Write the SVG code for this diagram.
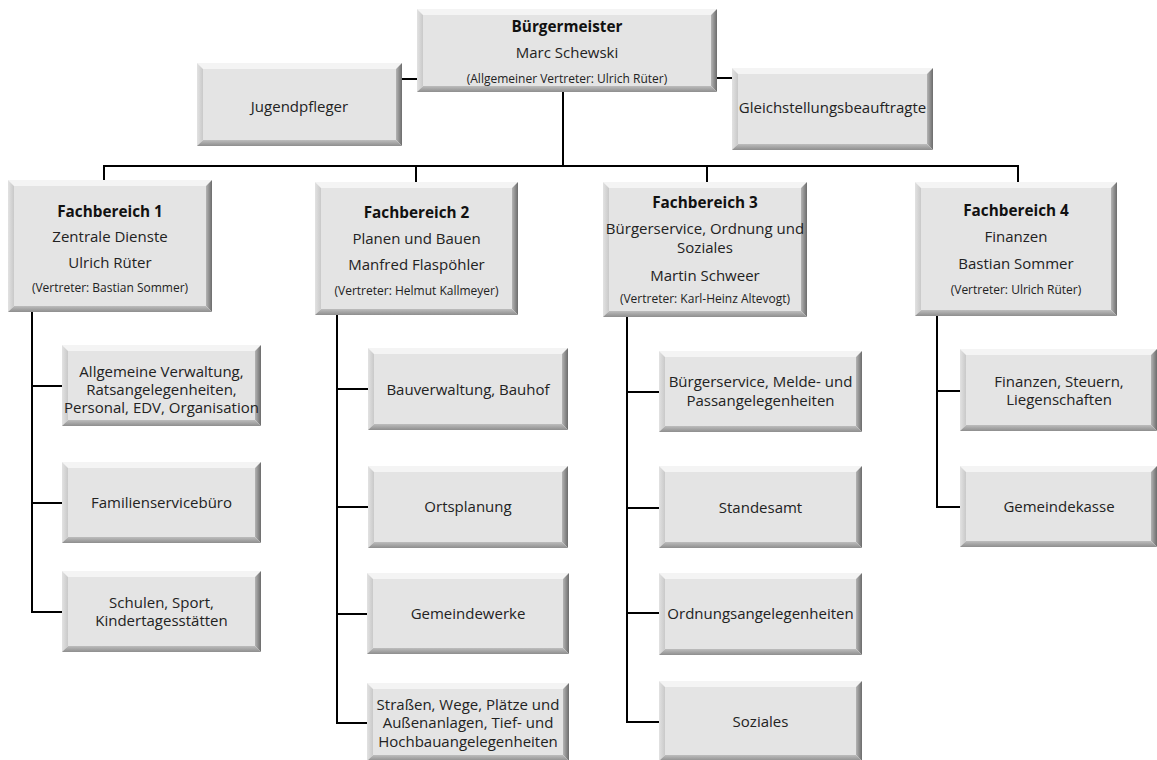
<svg xmlns="http://www.w3.org/2000/svg" width="1157" height="760" viewBox="0 0 1157 760">
<defs>
<linearGradient id="gr" x1="0" y1="0" x2="1" y2="0"><stop offset="0" stop-color="#b4b4b4"/><stop offset="1" stop-color="#6c6c6c"/></linearGradient>
<linearGradient id="gb" x1="0" y1="0" x2="0" y2="1"><stop offset="0" stop-color="#bdbdbd"/><stop offset="1" stop-color="#8e8e8e"/></linearGradient>
<linearGradient id="gl" x1="0" y1="0" x2="1" y2="0"><stop offset="0" stop-color="#e2e2e2"/><stop offset="1" stop-color="#c9c9c9"/></linearGradient>
<style>
.f{fill:#e4e4e4}.t{fill:#f4f4f4}.l{fill:url(#gl)}.r{fill:url(#gr)}.b{fill:url(#gb)}
text{font-family:"Open Sans","Liberation Sans",sans-serif;fill:#222;text-anchor:middle;font-size:15px}
.h{font-weight:bold;font-size:15.3px;fill:#111}
.s{font-size:12px}
.c line{stroke:#000;stroke-width:2}
</style>
</defs>
<rect width="1157" height="760" fill="#fff"/>
<g class="c" id="connectors">
<line x1="402" y1="79" x2="417" y2="79"/>
<line x1="717" y1="78" x2="732" y2="78"/>
<line x1="563" y1="92" x2="563" y2="167"/>
<line x1="103" y1="166" x2="1019" y2="166"/>
<line x1="104" y1="166" x2="104" y2="180"/>
<line x1="416" y1="166" x2="416" y2="182"/>
<line x1="707" y1="166" x2="707" y2="182"/>
<line x1="1018" y1="166" x2="1018" y2="182"/>
<line x1="32" y1="312" x2="32" y2="613"/>
<line x1="31" y1="386" x2="62" y2="386"/>
<line x1="31" y1="503" x2="62" y2="503"/>
<line x1="31" y1="612" x2="62" y2="612"/>
<line x1="337" y1="315" x2="337" y2="724"/>
<line x1="336" y1="389" x2="368" y2="389"/>
<line x1="336" y1="507" x2="368" y2="507"/>
<line x1="336" y1="614" x2="367" y2="614"/>
<line x1="336" y1="723" x2="367" y2="723"/>
<line x1="627" y1="317" x2="627" y2="723"/>
<line x1="626" y1="392" x2="659" y2="392"/>
<line x1="626" y1="508" x2="659" y2="508"/>
<line x1="626" y1="613" x2="659" y2="613"/>
<line x1="626" y1="722" x2="659" y2="722"/>
<line x1="937" y1="316" x2="937" y2="508"/>
<line x1="936" y1="391" x2="960" y2="391"/>
<line x1="936" y1="507" x2="960" y2="507"/>
</g>
<g id="buergermeister"><path class="t" d="M417 9h300l-6 6H423z"/><path class="l" d="M417 9l6 6v71l-6 6z"/><path class="r" d="M717 9v83l-6-6V15z"/><path class="b" d="M417 92l6-6h288l6 6z"/><rect class="f" x="423" y="15" width="288" height="71"/>
<text class="h" x="567" y="32">Bürgermeister</text><text x="567" y="58">Marc Schewski</text><text class="s" x="567" y="83">(Allgemeiner Vertreter: Ulrich Rüter)</text></g>
<g id="jugendpfleger"><path class="t" d="M197 63h205l-6 6H203z"/><path class="l" d="M197 63l6 6v71l-6 6z"/><path class="r" d="M402 63v83l-6-6V69z"/><path class="b" d="M197 146l6-6h193l6 6z"/><rect class="f" x="203" y="69" width="193" height="71"/>
<text x="299.5" y="112">Jugendpfleger</text></g>
<g id="gleichstellung"><path class="t" d="M732 68h201l-6 6H738z"/><path class="l" d="M732 68l6 6v70l-6 6z"/><path class="r" d="M933 68v82l-6-6V74z"/><path class="b" d="M732 150l6-6h189l6 6z"/><rect class="f" x="738" y="74" width="189" height="70"/>
<text x="832.5" y="113">Gleichstellungsbeauftragte</text></g>
<g id="fb1"><path class="t" d="M8 180h204l-6 6H14z"/><path class="l" d="M8 180l6 6v120l-6 6z"/><path class="r" d="M212 180v132l-6-6V186z"/><path class="b" d="M8 312l6-6h192l6 6z"/><rect class="f" x="14" y="186" width="192" height="120"/>
<text class="h" x="110" y="217">Fachbereich 1</text><text x="110" y="242">Zentrale Dienste</text><text x="110" y="268">Ulrich Rüter</text><text class="s" x="110" y="292">(Vertreter: Bastian Sommer)</text></g>
<g id="fb2"><path class="t" d="M315 182h203l-6 6H321z"/><path class="l" d="M315 182l6 6v121l-6 6z"/><path class="r" d="M518 182v133l-6-6V188z"/><path class="b" d="M315 315l6-6h191l6 6z"/><rect class="f" x="321" y="188" width="191" height="121"/>
<text class="h" x="416.5" y="218">Fachbereich 2</text><text x="416.5" y="244">Planen und Bauen</text><text x="416.5" y="270">Manfred Flaspöhler</text><text class="s" x="416.5" y="295">(Vertreter: Helmut Kallmeyer)</text></g>
<g id="fb3"><path class="t" d="M603 182h204l-6 6H609z"/><path class="l" d="M603 182l6 6v123l-6 6z"/><path class="r" d="M807 182v135l-6-6V188z"/><path class="b" d="M603 317l6-6h192l6 6z"/><rect class="f" x="609" y="188" width="192" height="123"/>
<text class="h" x="705" y="208">Fachbereich 3</text><text x="705" y="234">Bürgerservice, Ordnung und</text><text x="705" y="253">Soziales</text><text x="705" y="281">Martin Schweer</text><text class="s" x="705" y="303">(Vertreter: Karl-Heinz Altevogt)</text></g>
<g id="fb4"><path class="t" d="M915 182h202l-6 6H921z"/><path class="l" d="M915 182l6 6v122l-6 6z"/><path class="r" d="M1117 182v134l-6-6V188z"/><path class="b" d="M915 316l6-6h190l6 6z"/><rect class="f" x="921" y="188" width="190" height="122"/>
<text class="h" x="1016" y="216">Fachbereich 4</text><text x="1016" y="242">Finanzen</text><text x="1016" y="269">Bastian Sommer</text><text class="s" x="1016" y="294">(Vertreter: Ulrich Rüter)</text></g>
<g id="allg-verwaltung"><path class="t" d="M62 345h199l-6 6H68z"/><path class="l" d="M62 345l6 6v69l-6 6z"/><path class="r" d="M261 345v81l-6-6V351z"/><path class="b" d="M62 426l6-6h187l6 6z"/><rect class="f" x="68" y="351" width="187" height="69"/>
<text x="161.5" y="377">Allgemeine Verwaltung,</text><text x="161.5" y="395">Ratsangelegenheiten,</text><text x="161.5" y="413">Personal, EDV, Organisation</text></g>
<g id="familienservice"><path class="t" d="M62 462h199l-6 6H68z"/><path class="l" d="M62 462l6 6v69l-6 6z"/><path class="r" d="M261 462v81l-6-6V468z"/><path class="b" d="M62 543l6-6h187l6 6z"/><rect class="f" x="68" y="468" width="187" height="69"/>
<text x="161.5" y="508">Familienservicebüro</text></g>
<g id="schulen"><path class="t" d="M62 571h199l-6 6H68z"/><path class="l" d="M62 571l6 6v69l-6 6z"/><path class="r" d="M261 571v81l-6-6V577z"/><path class="b" d="M62 652l6-6h187l6 6z"/><rect class="f" x="68" y="577" width="187" height="69"/>
<text x="161.5" y="608">Schulen, Sport,</text><text x="161.5" y="626">Kindertagesstätten</text></g>
<g id="bauverwaltung"><path class="t" d="M368 348h200l-6 6H374z"/><path class="l" d="M368 348l6 6v70l-6 6z"/><path class="r" d="M568 348v82l-6-6V354z"/><path class="b" d="M368 430l6-6h188l6 6z"/><rect class="f" x="374" y="354" width="188" height="70"/>
<text x="468" y="395">Bauverwaltung, Bauhof</text></g>
<g id="ortsplanung"><path class="t" d="M368 466h200l-6 6H374z"/><path class="l" d="M368 466l6 6v70l-6 6z"/><path class="r" d="M568 466v82l-6-6V472z"/><path class="b" d="M368 548l6-6h188l6 6z"/><rect class="f" x="374" y="472" width="188" height="70"/>
<text x="468" y="512">Ortsplanung</text></g>
<g id="gemeindewerke"><path class="t" d="M367 573h202l-6 6H373z"/><path class="l" d="M367 573l6 6v69l-6 6z"/><path class="r" d="M569 573v81l-6-6V579z"/><path class="b" d="M367 654l6-6h190l6 6z"/><rect class="f" x="373" y="579" width="190" height="69"/>
<text x="468" y="619">Gemeindewerke</text></g>
<g id="strassen"><path class="t" d="M367 683h202l-6 6H373z"/><path class="l" d="M367 683l6 6v66l-6 6z"/><path class="r" d="M569 683v78l-6-6V689z"/><path class="b" d="M367 761l6-6h190l6 6z"/><rect class="f" x="373" y="689" width="190" height="66"/>
<text x="468" y="710">Straßen, Wege, Plätze und</text><text x="468" y="728">Außenanlagen, Tief- und</text><text x="468" y="747">Hochbauangelegenheiten</text></g>
<g id="buergerservice"><path class="t" d="M659 351h203l-6 6H665z"/><path class="l" d="M659 351l6 6v69l-6 6z"/><path class="r" d="M862 351v81l-6-6V357z"/><path class="b" d="M659 432l6-6h191l6 6z"/><rect class="f" x="665" y="357" width="191" height="69"/>
<text x="760.5" y="387">Bürgerservice, Melde- und</text><text x="760.5" y="406">Passangelegenheiten</text></g>
<g id="standesamt"><path class="t" d="M659 466h203l-6 6H665z"/><path class="l" d="M659 466l6 6v70l-6 6z"/><path class="r" d="M862 466v82l-6-6V472z"/><path class="b" d="M659 548l6-6h191l6 6z"/><rect class="f" x="665" y="472" width="191" height="70"/>
<text x="760.5" y="513">Standesamt</text></g>
<g id="ordnung"><path class="t" d="M659 573h203l-6 6H665z"/><path class="l" d="M659 573l6 6v70l-6 6z"/><path class="r" d="M862 573v82l-6-6V579z"/><path class="b" d="M659 655l6-6h191l6 6z"/><rect class="f" x="665" y="579" width="191" height="70"/>
<text x="760.5" y="619">Ordnungsangelegenheiten</text></g>
<g id="soziales"><path class="t" d="M659 681h203l-6 6H665z"/><path class="l" d="M659 681l6 6v68l-6 6z"/><path class="r" d="M862 681v80l-6-6V687z"/><path class="b" d="M659 761l6-6h191l6 6z"/><rect class="f" x="665" y="687" width="191" height="68"/>
<text x="760.5" y="727">Soziales</text></g>
<g id="finanzen"><path class="t" d="M960 349h197l-6 6H966z"/><path class="l" d="M960 349l6 6v70l-6 6z"/><path class="r" d="M1157 349v82l-6-6V355z"/><path class="b" d="M960 431l6-6h185l6 6z"/><rect class="f" x="966" y="355" width="185" height="70"/>
<text x="1059" y="387">Finanzen, Steuern,</text><text x="1059" y="405">Liegenschaften</text></g>
<g id="gemeindekasse"><path class="t" d="M960 466h197l-6 6H966z"/><path class="l" d="M960 466l6 6v69l-6 6z"/><path class="r" d="M1157 466v81l-6-6V472z"/><path class="b" d="M960 547l6-6h185l6 6z"/><rect class="f" x="966" y="472" width="185" height="69"/>
<text x="1059" y="512">Gemeindekasse</text></g>
</svg>
